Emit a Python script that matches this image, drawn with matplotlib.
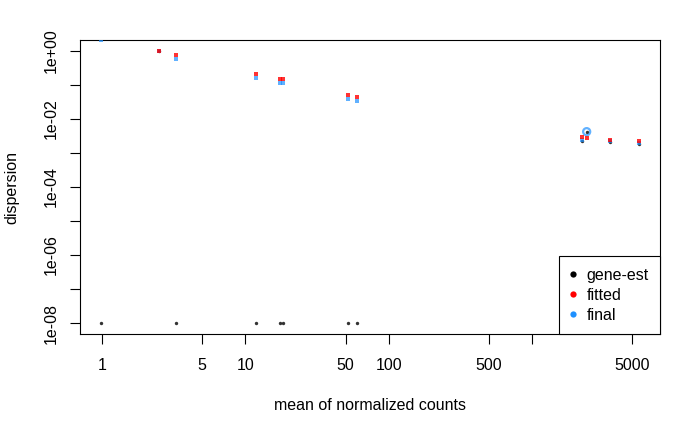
import numpy as np
import matplotlib
matplotlib.use("Agg")
import matplotlib.pyplot as plt
from matplotlib.lines import Line2D

plt.rcParams["font.family"] = ["Liberation Sans", "DejaVu Sans"]
FS = 11.5

# per-gene values (genes with zero counts dropped)
base_mean = [0.99, 2.5, 3.3, 11.8, 17.4, 18.2, 51.8, 59.8, 2210, 2400, 3470, 5520]
gene_est = [1e-8, 0.99, 1e-8, 1e-8, 1e-8, 1e-8, 1e-8, 1e-8, 0.0022, 0.0042, 0.00215, 0.00185]
fitted = [2.6, 1.0, 0.75, 0.21, 0.148, 0.145, 0.051, 0.044, 0.0029, 0.0028, 0.00247, 0.0022]
final = [2.1, 0.98, 0.57, 0.16, 0.112, 0.11, 0.037, 0.034, 0.0024, 0.0042, 0.0023, 0.002]
outlier = [False] * 9 + [True] + [False] * 2

legend_labels = ["gene-est", "fitted", "final"]
gene_col = (0, 0, 0, 0.8)
fit_col = (1, 0, 0, 0.8)
final_col = (0.118, 0.565, 1.0, 0.7)


def r_range(vals):
    # R style axis range: data range plus 4% on each side (log scale)
    lv = np.log10(vals)
    pad = 0.04 * (lv.max() - lv.min())
    return 10 ** (lv.min() - pad), 10 ** (lv.max() + pad)


def run():
    x = np.array(base_mean)
    ymin = 1e-8
    gy = np.maximum(np.array(gene_est), ymin)
    out = np.array(outlier)

    fig = plt.figure(figsize=(7, 4.32), dpi=100)
    ax = fig.add_axes([80 / 700, 98 / 432, 580 / 700, 294 / 432])
    ax.set_xscale("log")
    ax.set_yscale("log")

    ax.scatter(x, gy, s=6, color=gene_col, linewidths=0, zorder=2)
    ax.scatter(x[~out], np.array(final)[~out], s=9, marker="s", color=final_col,
               linewidths=0, zorder=3)
    ax.scatter(x[out], np.array(final)[out], s=26, facecolors="none",
               edgecolors=[final_col], linewidths=1.6, zorder=3)
    ax.scatter(x, fitted, s=9, marker="s", color=fit_col, linewidths=0, zorder=4)

    ax.set_xlim(*r_range(x))
    ax.set_ylim(*r_range(gy))

    xt = [1, 5, 10, 50, 100, 500, 1000, 5000]
    ax.set_xticks(xt)
    ax.set_xticklabels(["1", "5", "10", "50", "100", "500", "", "5000"])
    yt = [10.0 ** e for e in range(-8, 1)]
    ax.set_yticks(yt)
    ax.set_yticklabels(["1e%+03d" % e if e % 2 == 0 else "" for e in range(-8, 1)])
    ax.minorticks_off()
    ax.tick_params(axis="both", direction="out", length=7, width=0.8,
                   labelsize=FS, colors="black")
    ax.tick_params(axis="x", pad=10)
    ax.tick_params(axis="y", pad=8)
    plt.setp(ax.get_yticklabels(), rotation=90, va="center")
    for s in ax.spines.values():
        s.set_linewidth(0.8)

    ax.set_xlabel("mean of normalized counts", fontsize=FS, labelpad=18)
    ax.set_ylabel("dispersion", fontsize=FS, labelpad=18)

    handles = [Line2D([], [], marker="o", linestyle="none", markersize=4.5,
                      markeredgewidth=0, color=c)
               for c in ["black", "red", "dodgerblue"]]
    leg = ax.legend(handles, legend_labels, loc="lower right", bbox_to_anchor=(1, 0),
                    borderaxespad=0, fontsize=FS, fancybox=False, framealpha=1,
                    edgecolor="black", handlelength=0.45, handletextpad=0.6,
                    borderpad=0.7, labelspacing=0.32)
    leg.get_frame().set_linewidth(0.8)

    fig.savefig("out.png", dpi=100)


if __name__ == "__main__":
    run()
